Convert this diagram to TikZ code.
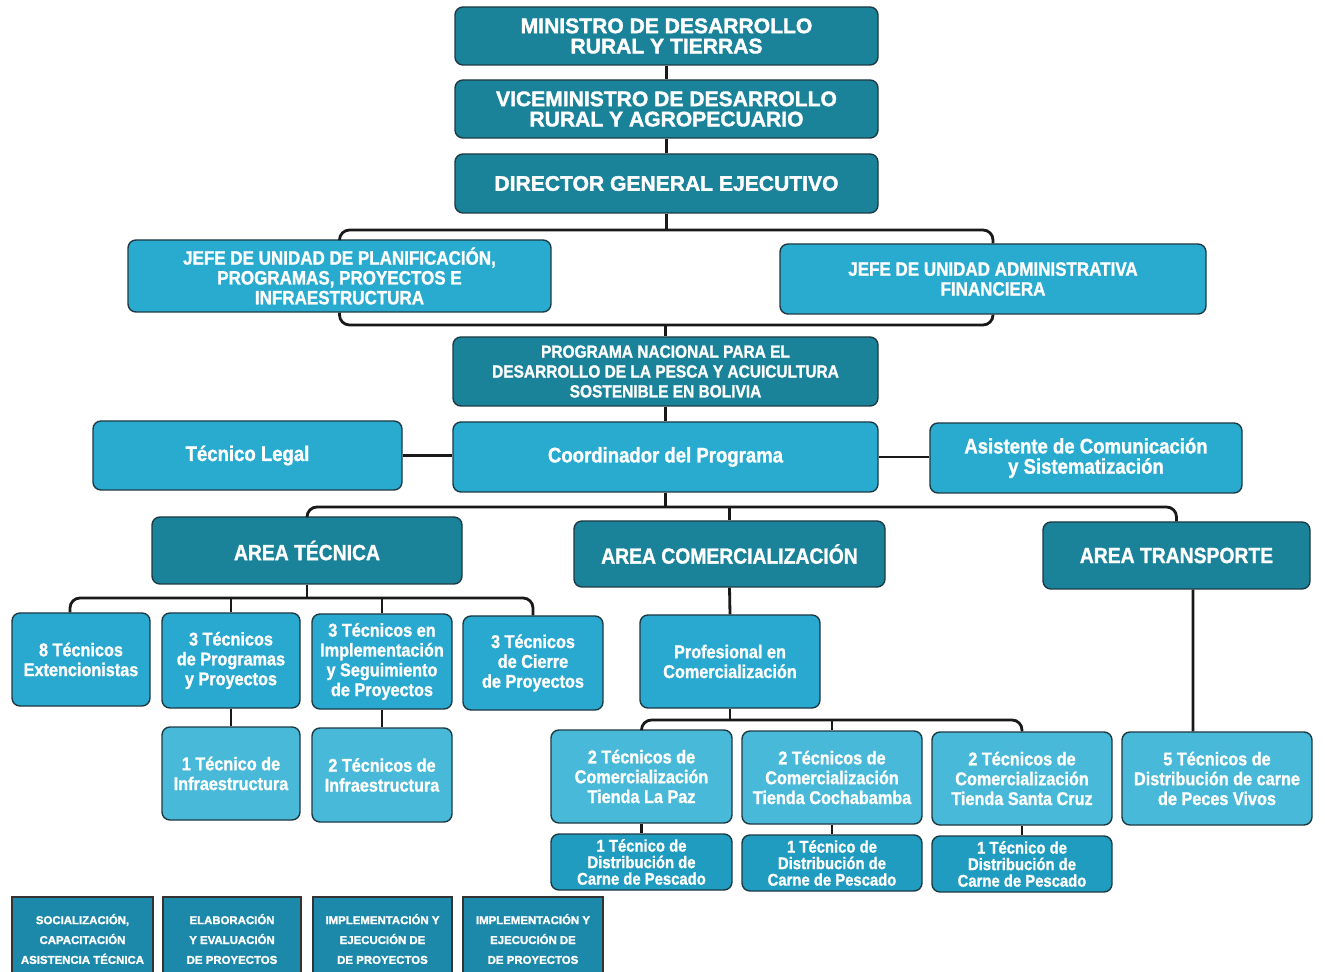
\documentclass[tikz,border=0pt]{standalone}
\usepackage{fontspec}
\setmainfont{Liberation Sans}
\newfontfamily\cond[FakeStretch=0.88, BoldFeatures={FakeBold=1.2}]{Liberation Sans}
\newfontfamily\heavy[BoldFeatures={FakeBold=1.6}]{Liberation Sans}
\usetikzlibrary{calc}
\definecolor{dk}{HTML}{1A8399}
\definecolor{md}{HTML}{29ABD0}
\definecolor{tc}{HTML}{29A9CF}
\definecolor{lt}{HTML}{48B9D8}
\definecolor{ds}{HTML}{1F9CBF}
\definecolor{lg}{HTML}{1C89AA}
\definecolor{edge}{HTML}{1E3A44}
\begin{document}
\begin{tikzpicture}[x=0.02cm,y=-0.02cm,
  sz/.style 2 args={minimum width=#1*0.02cm, minimum height=#2*0.02cm},
  bx/.style={draw=edge, line width=0.8pt, rounded corners=0.16cm, text=white, align=center, inner sep=0pt},
  bdk/.style={bx, fill=dk},
  bmd/.style={bx, fill=md},
  btc/.style={bx, fill=tc},
  blt/.style={bx, fill=lt},
  bds/.style={bx, fill=ds},
  blg/.style={draw=black!80, line width=1pt, fill=lg, text=white, align=center, inner sep=0pt},
  topf/.style={font=\fontsize{12}{11.5}\selectfont\heavy\bfseries},
  midf/.style={font=\fontsize{11}{11.3}\selectfont\cond\bfseries},
  prgf/.style={font=\fontsize{10}{11.3}\selectfont\cond\bfseries},
  bigf/.style={font=\fontsize{12}{11.5}\selectfont\cond\bfseries},
  areaf/.style={font=\fontsize{12.5}{12}\selectfont\cond\bfseries},
  smf/.style={font=\fontsize{10.5}{11.3}\selectfont\cond\bfseries},
  dsf/.style={font=\fontsize{9.6}{9.4}\selectfont\cond\bfseries},
  lgf/.style={font=\fontsize{6.5}{11.3}\selectfont\heavy\bfseries},
  conn/.style={draw=black!90, line width=1.6pt},
  bar/.style={conn, rounded corners=0.2cm}]
\useasboundingbox[fill=white] (0,0) rectangle (1325,972);

% top chain
\node[bdk, sz={423}{58}, topf] (min) at (666.5,36) {MINISTRO DE DESARROLLO\\RURAL Y TIERRAS};
\node[bdk, sz={423}{58}, topf] (vic) at (666.5,109) {VICEMINISTRO DE DESARROLLO\\RURAL Y AGROPECUARIO};
\node[bdk, sz={423}{59}, topf] (dir) at (666.5,183.5) {DIRECTOR GENERAL EJECUTIVO};

\node[bmd, sz={423}{72}, midf] (jp) at (339.5,276) {JEFE DE UNIDAD DE PLANIFICACIÓN,\\PROGRAMAS, PROYECTOS E\\INFRAESTRUCTURA};
\node[bmd, sz={426}{70}, midf] (ja) at (993,279) {JEFE DE UNIDAD ADMINISTRATIVA\\FINANCIERA};

\node[bdk, sz={425}{69}, prgf] (prog) at (665.5,371.5) {PROGRAMA NACIONAL PARA EL\\DESARROLLO DE LA PESCA Y ACUICULTURA\\SOSTENIBLE EN BOLIVIA};

\node[bmd, sz={309}{69}, bigf] (leg) at (247.5,455.5) {Técnico Legal};
\node[bmd, sz={425}{70}, bigf] (coord) at (665.5,457) {Coordinador del Programa};
\node[bmd, sz={312}{70}, bigf] (asis) at (1086,458) {Asistente de Comunicación\\y Sistematización};

\node[bdk, sz={310}{67}, areaf] (at) at (307,550.5) {AREA TÉCNICA};
\node[bdk, sz={311}{66}, areaf] (ac) at (729.5,554) {AREA COMERCIALIZACIÓN};
\node[bdk, sz={267}{67}, areaf] (atr) at (1176.5,555.5) {AREA TRANSPORTE};

% area tecnica children
\node[btc, sz={138}{93}, smf] (t1) at (81,659.5) {8 Técnicos\\Extencionistas};
\node[btc, sz={138}{95}, smf] (t2) at (231,660.5) {3 Técnicos\\de Programas\\y Proyectos};
\node[btc, sz={140}{95}, smf] (t3) at (382,661.5) {3 Técnicos en\\Implementación\\y Seguimiento\\de Proyectos};
\node[btc, sz={140}{94}, smf] (t4) at (533,663) {3 Técnicos\\de Cierre\\de Proyectos};
\node[blt, sz={138}{93}, smf] (i1) at (231,773.5) {1 Técnico de\\Infraestructura};
\node[blt, sz={140}{94}, smf] (i2) at (382,775) {2 Técnicos de\\Infraestructura};

% comercializacion
\node[btc, sz={180}{93}, smf] (pc) at (730,661.5) {Profesional en\\Comercialización};
\node[blt, sz={181}{93}, smf] (c1) at (641.5,776.5) {2 Técnicos de\\Comercialización\\Tienda La Paz};
\node[blt, sz={180}{93}, smf] (c2) at (832,777.5) {2 Técnicos de\\Comercialización\\Tienda Cochabamba};
\node[blt, sz={180}{93}, smf] (c3) at (1022,778.5) {2 Técnicos de\\Comercialización\\Tienda Santa Cruz};
\node[bds, sz={181}{56}, dsf] (d1) at (641.5,862) {1 Técnico de\\Distribución de\\Carne de Pescado};
\node[bds, sz={180}{56}, dsf] (d2) at (832,863) {1 Técnico de\\Distribución de\\Carne de Pescado};
\node[bds, sz={180}{56}, dsf] (d3) at (1022,864) {1 Técnico de\\Distribución de\\Carne de Pescado};

% transporte
\node[blt, sz={190}{93}, smf] (t5) at (1217,778.5) {5 Técnicos de\\Distribución de carne\\de Peces Vivos};

% legend boxes
\node[blg, sz={141}{84}, lgf] (l1) at (82.5,939) {SOCIALIZACIÓN,\\CAPACITACIÓN\\ASISTENCIA TÉCNICA};
\node[blg, sz={138}{84}, lgf] (l2) at (232,939) {ELABORACIÓN\\Y EVALUACIÓN\\DE PROYECTOS};
\node[blg, sz={139}{84}, lgf] (l3) at (382.5,939) {IMPLEMENTACIÓN Y\\EJECUCIÓN DE\\DE PROYECTOS};
\node[blg, sz={140}{84}, lgf] (l4) at (533,939) {IMPLEMENTACIÓN Y\\EJECUCIÓN DE\\DE PROYECTOS};

% bar levels
\coordinate (b1) at (666,230);
\coordinate (b2) at (666,325);
\coordinate (b3) at (666,507);
\coordinate (b4) at (305,598);
\coordinate (b5) at (730,720);

% connectors
\draw[conn] (min.south) -- (vic.north);
\draw[conn] (vic.south) -- (dir.north);
\draw[conn] (dir.south) -- (dir.south |- b1);
\draw[bar] (jp.north) |- (b1) -| (ja.north);
\draw[bar] (jp.south) |- (b2) -| (ja.south);
\draw[conn] (prog.north |- b2) -- (prog.north);
\draw[conn] (prog.south) -- (coord.north);
\draw[conn] (leg.east) -- (leg.east -| coord.west);
\draw[conn] (coord.east) -- (coord.east -| asis.west);
\draw[conn] (coord.south) -- (coord.south |- b3);
\draw[bar] (at.north) |- (b3) -| (atr.north);
\draw[conn] (ac.north |- b3) -- (ac.north);

\draw[conn] (at.south) -- (at.south |- b4);
\draw[bar] ([xshift=-0.22cm]t1.north) |- (b4) -| (t4.north);
\draw[conn] (t2.north |- b4) -- (t2.north);
\draw[conn] (t3.north |- b4) -- (t3.north);
\draw[conn] (t2.south) -- (i1.north);
\draw[conn] (t3.south) -- (i2.north);

\draw[conn] (ac.south) -- (pc.north);
\draw[conn] (pc.south) -- (pc.south |- b5);
\draw[bar] (c1.north) |- (b5) -| (c3.north);
\draw[conn] (c2.north |- b5) -- (c2.north);
\draw[conn] (c1.south) -- (d1.north);
\draw[conn] (c2.south) -- (d2.north);
\draw[conn] (c3.south) -- (d3.north);

\draw[conn] ([xshift=0.33cm]atr.south) -- ([xshift=-0.48cm]t5.north);
\end{tikzpicture}
\end{document}
